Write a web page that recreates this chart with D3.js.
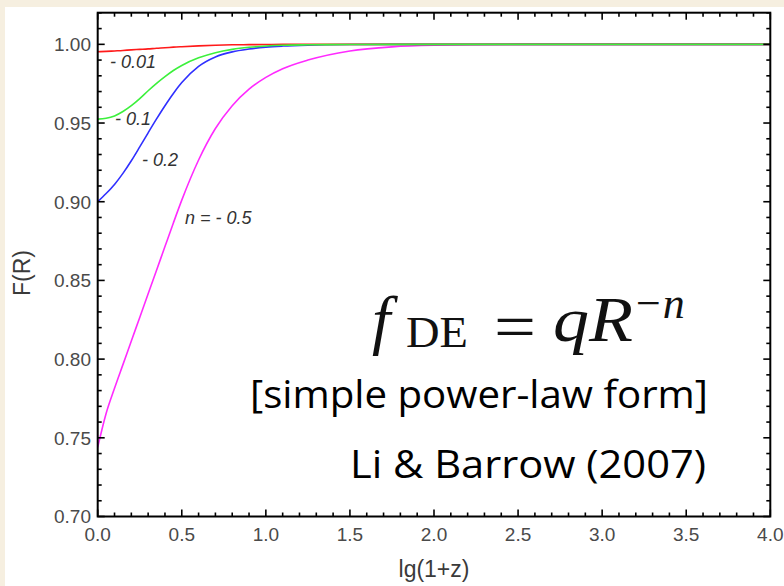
<!DOCTYPE html>
<html>
<head>
<meta charset="utf-8">
<script src="https://cdn.jsdelivr.net/npm/d3@7"></script>
<style>
  html, body { margin: 0; padding: 0; background: #ffffff; }
  svg { display: block; }
</style>
</head>
<body>
<svg id="chart" width="784" height="586"></svg>
<script>
// ---------------- data ----------------
const lgGrid   = [0, 0.05, 0.1, 0.15, 0.2, 0.25, 0.3, 0.35, 0.4, 0.45, 0.5, 0.6, 0.7, 0.8, 0.9, 1.0, 1.1, 1.25, 1.5, 1.75, 2.0, 2.5, 3.0, 4.0];
const fRed     = [0.9953, 0.9955, 0.9958, 0.9961, 0.9965, 0.9968, 0.9971, 0.9975, 0.9978, 0.9982, 0.9985, 0.9990, 0.9994, 0.9997, 0.9998, 0.9999, 1.0, 1.0, 1.0, 1.0, 1.0, 1.0, 1.0, 1.0];
const fGreen   = [0.9525, 0.9530, 0.9545, 0.9573, 0.9610, 0.9655, 0.9705, 0.9752, 0.9795, 0.9834, 0.9866, 0.9914, 0.9947, 0.9968, 0.9981, 0.9989, 0.9994, 0.9997, 0.9999, 1.0, 1.0, 1.0, 1.0, 1.0];
const fBlue    = [0.9000, 0.9052, 0.9110, 0.9180, 0.9260, 0.9348, 0.9438, 0.9526, 0.9610, 0.9688, 0.9757, 0.9860, 0.9920, 0.9952, 0.9970, 0.9982, 0.9989, 0.9995, 0.9999, 1.0, 1.0, 1.0, 1.0, 1.0];
const fMagenta = [0.7440, 0.7655, 0.7815, 0.7965, 0.8115, 0.8265, 0.8415, 0.8565, 0.8715, 0.8865, 0.9010, 0.9265, 0.9465, 0.9610, 0.9715, 0.9790, 0.9845, 0.9900, 0.9958, 0.9984, 0.9994, 0.99995, 1.0, 1.0];
const seriesNames = ["n = -0.5", "-0.2", "-0.01", "-0.1"];
const curveLabels = ["- 0.01", "- 0.1", "- 0.2", "n = - 0.5"];
const xTickLabels = ["0.0", "0.5", "1.0", "1.5", "2.0", "2.5", "3.0", "3.5", "4.0"];
const yTickLabels = ["0.70", "0.75", "0.80", "0.85", "0.90", "0.95", "1.00"];
const xTitle = "lg(1+z)";
const yTitle = "F(R)";
const noteLines = ["[simple power-law form]", "Li & Barrow (2007)"];

// ---------------- layout ----------------
const svg = d3.select("#chart");
const W = 784, H = 586;
const L = 97.7, R = 770.3, T = 12.7, B = 516.5;

// slide background
svg.append("rect").attr("x", 0).attr("y", 0).attr("width", W).attr("height", H).attr("fill", "#f6efe0");
svg.append("rect").attr("x", 5).attr("y", 7).attr("width", W - 5).attr("height", H - 7).attr("fill", "#ffffff");

const x = d3.scaleLinear().domain([0, 4]).range([L, R]);
const y = d3.scaleLinear().domain([0.70, 1.0201]).range([B, T]);

const defs = svg.append("defs");
defs.append("clipPath").attr("id", "plotclip")
  .append("rect").attr("x", L).attr("y", T).attr("width", R - L).attr("height", B - T);

// curves
const line = d3.line()
  .x(d => x(d[0])).y(d => y(d[1]))
  .curve(d3.curveMonotoneX);

const series = [
  { name: seriesNames[0], vals: fMagenta, color: "#ff2bff" },
  { name: seriesNames[1], vals: fBlue,    color: "#3030ff" },
  { name: seriesNames[2], vals: fRed,     color: "#ff1a1a" },
  { name: seriesNames[3], vals: fGreen,   color: "#3cf03c" }
];
const gCurves = svg.append("g").attr("clip-path", "url(#plotclip)");
series.forEach(s => {
  gCurves.append("path")
    .datum(lgGrid.map((v, i) => [v, s.vals[i]]))
    .attr("fill", "none")
    .attr("stroke", s.color)
    .attr("stroke-width", 1.6)
    .attr("d", line);
});

// frame
svg.append("rect").attr("x", L).attr("y", T).attr("width", R - L).attr("height", B - T)
  .attr("fill", "none").attr("stroke", "#000").attr("stroke-width", 2);

// ticks (inward on all four sides)
const gT = svg.append("g").attr("stroke", "#000").attr("stroke-width", 1.6);
const xMinor = d3.range(0, 41).map(i => i / 10);
xMinor.forEach((v, i) => {
  const len = (i % 5 === 0) ? 7 : 4;
  gT.append("line").attr("x1", x(v)).attr("x2", x(v)).attr("y1", B).attr("y2", B - len);
  gT.append("line").attr("x1", x(v)).attr("x2", x(v)).attr("y1", T).attr("y2", T + len);
});
const yMinor = d3.range(70, 103).map(i => i / 100);
yMinor.forEach((v, i) => {
  const len = (i % 5 === 0) ? 7 : 4;
  gT.append("line").attr("x1", L).attr("x2", L + len).attr("y1", y(v)).attr("y2", y(v));
  gT.append("line").attr("x1", R).attr("x2", R - len).attr("y1", y(v)).attr("y2", y(v));
});

// tick labels
const tickFont = "'Liberation Sans', Arial, sans-serif";
xTickLabels.forEach(t => {
  svg.append("text").attr("x", x(+t)).attr("y", 540.5)
    .attr("text-anchor", "middle").attr("font-family", tickFont).attr("font-size", 19)
    .attr("fill", "#4a4a4a").text(t);
});
yTickLabels.forEach(t => {
  svg.append("text").attr("x", 91).attr("y", y(+t)).attr("dy", "0.36em")
    .attr("text-anchor", "end").attr("font-family", tickFont).attr("font-size", 19)
    .attr("fill", "#4a4a4a").text(t);
});

// axis titles
svg.append("text").attr("x", 434).attr("y", 577)
  .attr("text-anchor", "middle").attr("font-family", tickFont).attr("font-size", 23)
  .attr("fill", "#3a3a3a").text(xTitle);
svg.append("text").attr("transform", "translate(30,273) rotate(-90)")
  .attr("text-anchor", "middle").attr("font-family", tickFont).attr("font-size", 23)
  .attr("fill", "#3a3a3a").text(yTitle);

// curve labels
const labelPos = [[110, 68], [115, 125], [142, 166], [185, 224]];
curveLabels.forEach((t, i) => {
  svg.append("text").attr("x", labelPos[i][0]).attr("y", labelPos[i][1])
    .attr("font-family", tickFont).attr("font-style", "italic").attr("font-size", 18)
    .attr("fill", "#333").attr("xml:space", "preserve").text(t);
});

// formula f_DE = q R^{-n}
const serif = "'Liberation Serif', 'Times New Roman', serif";
const fg = svg.append("g").attr("fill", "#111").attr("font-family", serif);
fg.append("text").attr("x", 372).attr("y", 342).attr("font-size", 66).attr("font-style", "italic").text("f");
fg.append("text").attr("x", 406).attr("y", 347).attr("font-size", 44)
  .attr("textLength", 62).attr("lengthAdjust", "spacingAndGlyphs").text("DE");
fg.append("text").attr("x", 494).attr("y", 349).attr("font-size", 66)
  .attr("textLength", 42).attr("lengthAdjust", "spacingAndGlyphs").text("=");
fg.append("text").attr("x", 553).attr("y", 341).attr("font-size", 64).attr("font-style", "italic")
  .attr("textLength", 80).attr("lengthAdjust", "spacingAndGlyphs").text("qR");
const sup = fg.append("text").attr("x", 636).attr("y", 318).attr("font-size", 44);
sup.append("tspan").text("\u2212");
sup.append("tspan").attr("font-style", "italic").attr("dx", 2).text("n");
</script>
<script>
// notes
(function () {
  const svg = d3.select("#chart");
  const noteFont = "'Open Sans', 'Noto Sans', sans-serif";
  svg.append("text").attr("x", 708).attr("y", 408).attr("text-anchor", "end")
    .attr("font-family", noteFont).attr("font-size", 38).attr("fill", "#000")
    .attr("textLength", 458).attr("lengthAdjust", "spacingAndGlyphs").text(noteLines[0]);
  svg.append("text").attr("x", 706).attr("y", 478).attr("text-anchor", "end")
    .attr("font-family", noteFont).attr("font-size", 39).attr("fill", "#000")
    .attr("textLength", 356).attr("lengthAdjust", "spacingAndGlyphs").text(noteLines[1]);
})();
</script>
</body>
</html>
